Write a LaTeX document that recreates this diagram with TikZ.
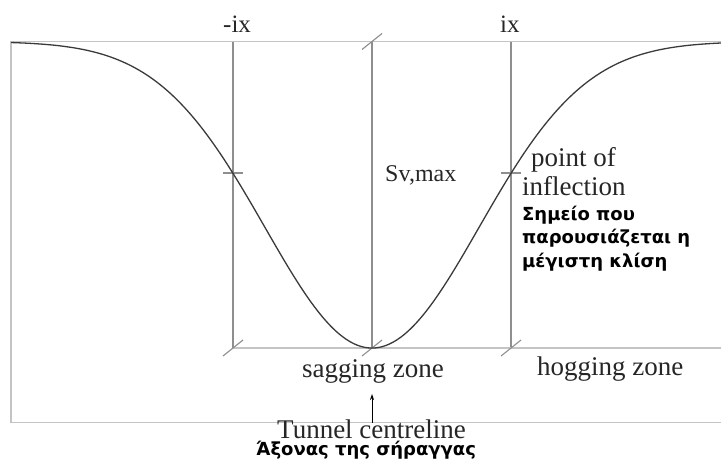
\documentclass[tikz,border=0pt]{standalone}
\usepackage{fontspec}
\setmainfont{Liberation Serif}
\newfontfamily\grkfont{DejaVu Sans}
\usetikzlibrary{arrows.meta}
\definecolor{framegray}{HTML}{C4C4C4}
\definecolor{guidegray}{HTML}{8E8E8E}
\definecolor{curvegray}{HTML}{3A3A3A}
\begin{document}
\begin{tikzpicture}[x=1pt,y=-1pt,
  frame/.style={draw=framegray, line width=1.3pt},
  guide/.style={draw=guidegray, line width=1.1pt},
  tickmark/.style={draw=guidegray, line width=1.1pt},
  eng/.style={inner sep=0pt, text=black!85, font=\fontsize{27}{30}\selectfont},
  smalleng/.style={eng, font=\fontsize{25}{28}\selectfont},
  grk/.style={inner sep=0pt, text=black, font=\grkfont\bfseries\fontsize{18}{21}\selectfont}]
\useasboundingbox (0,0) rectangle (721,463);
% frame
\coordinate (tl) at (11,41.5);
\coordinate (tr) at (721,41.5);
\coordinate (bl) at (11,422.5);
\coordinate (br) at (721,422.5);
\draw[frame] (tr) -- (tl) -- (bl) -- (br);
% guide lines
\coordinate (mtop) at (233,41.5);
\coordinate (ctop) at (372,41.5);
\coordinate (ptop) at (511,41.5);
\coordinate (mbot) at (233,348);
\coordinate (cbot) at (372,348);
\coordinate (pbot) at (511,348);
\coordinate (rbot) at (721,348);
\coordinate (minf) at (233,173);
\coordinate (pinf) at (511,173);
\draw[guide] (mtop) -- (mbot);
\draw[guide] (ctop) -- (cbot);
\draw[guide] (ptop) -- (pbot);
\draw[frame] (mbot) -- (rbot);
% slash ticks
\foreach \p in {ctop,mbot,cbot,pbot}
  \draw[tickmark, shift={(\p)}] (-10,8) -- (10,-8);
% inflection ticks
\foreach \p in {minf,pinf}
  \draw[tickmark, shift={(\p)}] (-10,0) -- (10,0);
% settlement trough
\draw[curvegray, line width=1.3pt, domain=11:721, samples=200, smooth]
  plot (\x, {41.5 + 306.5*exp(-((\x-372)/100)^2/2.29)});
% labels
\node[smalleng, anchor=base west] (lmi) at (223,32) {-ix};
\node[smalleng, anchor=base west] (lpi) at (500,32) {ix};
\node[eng, font=\fontsize{24}{28}\selectfont, anchor=base west] (lsv) at (385,181) {Sv,max};
\node[eng, anchor=base west] (lpo) at (531,166) {point of};
\node[eng, anchor=base west] (lin) at (522,195) {inflection};
\node[grk, anchor=base west] (g1) at (522,220) {Σημείο που};
\node[grk, anchor=base west] (g2) at (522,243.5) {παρουσιάζεται η};
\node[grk, anchor=base west] (g3) at (522,267) {μέγιστη κλίση};
\node[eng, anchor=base west] (lsag) at (302,377) {sagging zone};
\node[eng, anchor=base west] (lhog) at (537,375) {hogging zone};
\node[eng, anchor=base west] (ltc) at (277,438) {Tunnel centreline};
\node[grk, anchor=base west] (ltg) at (256,455.5) {Άξονας της σήραγγας};
% centreline arrow
\coordinate (arrfoot) at (372,422.5);
\coordinate (arrtip) at (372,394);
\draw[black, line width=0.8pt, -{Stealth[length=6pt,width=4pt]}] (arrfoot) -- (arrtip);
\end{tikzpicture}
\end{document}
